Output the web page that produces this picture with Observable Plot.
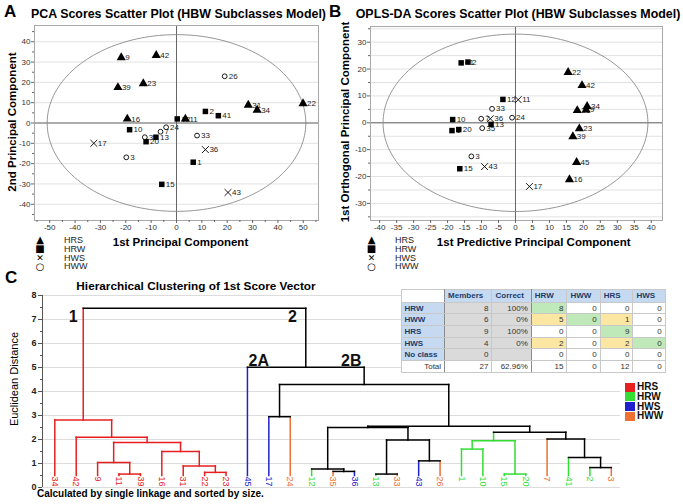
<!DOCTYPE html>
<html><head><meta charset="utf-8">
<script src="https://cdn.jsdelivr.net/npm/d3@7"></script>
<script src="https://cdn.jsdelivr.net/npm/@observablehq/plot@0.6"></script>
<style>
body{margin:0;background:#fff;font-family:"Liberation Sans",Arial,sans-serif;}
#fig{position:relative;width:683px;height:504px;overflow:hidden;background:#fff;}
.abs{position:absolute;white-space:nowrap;line-height:1;}
.c{transform:translate(-50%,-50%);}
.r{transform:translate(-50%,-50%) rotate(-90deg);}
svg{position:absolute;}
table{position:absolute;border-collapse:collapse;table-layout:fixed;font-size:8px;color:#333;background:#fff;border:1px solid #777;}
td{padding:0 3px;height:10.7px;border:1px solid #c8c8c8;text-align:right;overflow:hidden;white-space:nowrap;}
thead td{height:11.7px;font-weight:bold;color:#1f3a68;text-align:left;background:#c5daf0;}
td.rh{font-weight:bold;color:#1f3a68;text-align:left;background:#c5daf0;}
td.gray{background:#dadada;}
td.green{background:#bfe9b9;}
td.yellow{background:#fbe6a2;}
td:nth-child(1), td:nth-child(3){border-right:1px solid #8a8a8a;}
tbody tr:last-child td{border-top:1px solid #8a8a8a;}
</style></head><body><div id="fig"></div>
<script>
// ---------- DATA ----------
const classes = ["HRS","HRW","HWS","HWW"];
// Panel A: PCA scores
const pcaId    = ["9","42","26","39","23","31","34","22","2","41","16","12","11","10","24","7","33","35","13","20","17","36","3","1","15","43"];
const pcaClass = ["HRS","HRS","HWW","HRS","HRS","HRS","HRS","HRS","HRW","HRW","HRS","HRW","HRS","HRW","HWW","HWW","HWW","HWW","HRW","HRW","HWS","HWS","HWW","HRW","HRW","HWS"];
const pcaT1    = [-21.8,-8.0,19.0,-23.1,-13.1,28.3,31.8,49.9,11.4,16.5,-19.4,0.3,3.5,-18.5,-4.1,-6.3,8.1,-12.5,-8.1,-12.0,-32.6,11.4,-19.8,6.6,-5.8,20.3];
const pcaT2    = [32.2,33.3,23.0,17.5,19.4,8.8,6.4,9.6,5.7,3.6,2.0,2.0,2.0,-3.3,-2.1,-4.3,-6.2,-7.0,-7.0,-9.2,-10.0,-13.1,-16.9,-19.3,-30.2,-34.2];
const pcaEllipse = [51, 43.5];
// Panel B: OPLS-DA scores
const oplsId    = ["41","2","22","42","12","11","33","34","31","9","10","7","36","24","1","20","35","13","23","39","3","15","43","45","16","17"];
const oplsClass = ["HRW","HRW","HRS","HRS","HRW","HWS","HWW","HRS","HRS","HRS","HRW","HWW","HWS","HWW","HRW","HRW","HWW","HRW","HRS","HRS","HWW","HRW","HWS","HRS","HRS","HWS"];
const oplsTp    = [-16.0,-14.0,15.5,19.6,-3.7,0.8,-6.9,21.1,18.2,20.8,-18.5,-10.1,-7.4,-1.0,-18.7,-16.7,-9.8,-7.2,18.8,16.9,-13.0,-16.4,-9.1,18.0,15.9,4.1];
const oplsTo    = [22.3,22.6,18.8,13.9,8.7,8.6,5.2,6.1,4.6,4.8,1.2,1.5,1.5,1.9,-2.9,-2.5,-2.0,-0.6,-2.2,-5.1,-12.5,-17.1,-16.3,-14.7,-21.1,-23.7];
const oplsEllipse = [39, 33];
// Panel C: dendrogram
const leafIds   = ["34","42","9","11","39","16","31","22","23","45","17","24","12","35","36","13","33","43","26","1","10","15","20","7","41","2","3"];
const leafClass = ["HRS","HRS","HRS","HRS","HRS","HRS","HRS","HRS","HRS","HWS","HWS","HWW","HRW","HWW","HWS","HRW","HWW","HWS","HWW","HRW","HRW","HRW","HRW","HWW","HRW","HRW","HWW"];
const merges = [
  ["11","39",0.56],["9","n1",1.04],["22","23",0.63],["31","n3",0.90],["16","n4",1.50],
  ["n2","n5",1.88],["42","n6",2.09],["34","n7",2.81],["17","24",2.95],["35","36",0.67],
  ["12","n10",0.77],["13","33",0.56],["43","26",1.11],["n12","n13",1.98],["n11","n14",2.50],
  ["1","10",1.60],["15","20",0.56],["n16","n17",1.95],["2","3",0.83],["41","n19",1.25],
  ["7","n20",2.02],["n18","n21",2.30],["n15","n22",2.55],["n9","n23",4.29],["45","n24",5.01],
  ["n8","n25",7.47]
];
const leafBase = 0.5;
const clusterTags = [["1",0.86,7.1],["2",11.1,7.1],["2A",9.53,5.27],["2B",13.85,5.27]];
// Table
const tblCols = ["Members","Correct","HRW","HWW","HRS","HWS"];
const tblRows = ["HRW","HWW","HRS","HWS","No class"];
const tblMembers = ["8","6","9","4","0"];
const tblCorrect = ["100%","0%","100%","0%",""];
const tblMatrix = [[8,0,0,0],[5,0,1,0],[0,0,9,0],[2,0,2,0],[0,0,0,0]];
const tblTotal = ["Total","27","62.96%","15","0","12","0"];
const palette = {HRS:"#e62020", HRW:"#33dd33", HWS:"#2020cc", HWW:"#ee7033", mixed:"#000"};

// ---------- HELPERS ----------
const fig = document.getElementById("fig");
const FONT = '"Liberation Sans", Arial, sans-serif';
function txt(s, x, y, css, cls="c") {
  const d = document.createElement("div");
  d.className = "abs " + cls; d.textContent = s;
  d.style.left = x + "px"; d.style.top = y + "px";
  Object.assign(d.style, css || {});
  fig.appendChild(d); return d;
}
function place(svg, left, top) { svg.style.left = left + "px"; svg.style.top = top + "px"; fig.appendChild(svg); }

const symbolOf = {HRS:"triangle", HRW:"square", HWS:"times", HWW:"circle"};
function scatter(o) {
  const pts = o.ids.map((id,i)=>({id, cls:o.cls[i], x:o.xs[i], y:o.ys[i]}));
  const ell = d3.range(0, 361, 2).map(a => ({x:o.ellipse[0]*Math.cos(a*Math.PI/180), y:o.ellipse[1]*Math.sin(a*Math.PI/180)}));
  const dots = classes.map(c => {
    const filled = c==="HRS" || c==="HRW";
    return Plot.dot(pts.filter(d=>d.cls===c), {x:"x", y:"y", symbol:symbolOf[c],
      r: c==="HRS"?3.4:c==="HRW"?3.1:c==="HWS"?3.2:2.4,
      fill: filled?"#000":"#fff", stroke: filled?"none":"#000", strokeWidth: 0.9});
  });
  return Plot.plot({
    width:o.width, height:o.height, marginLeft:o.ml, marginRight:o.mr, marginTop:o.mt, marginBottom:o.mb,
    x:{domain:o.xDomain}, y:{domain:o.yDomain},
    style:{fontFamily:FONT, fontSize:"8px", color:"#333", background:"transparent"},
    marks:[
      Plot.gridY(o.yGrid, {stroke:"#e2e2e2", strokeOpacity:1}),
      Plot.ruleX([0], {stroke:"#666"}),
      Plot.ruleY([0], {stroke:"#666"}),
      Plot.line(ell, {x:"x", y:"y", stroke:"#8a8a8a", strokeWidth:0.9}),
      Plot.frame({stroke:"#a8a8a8"}),
      Plot.axisX(o.xTicks, {tickSize:3, tickPadding:1, fontSize:8, label:null, stroke:"#666", tickFormat:d=>String(d)}),
      Plot.axisX(o.xMinor, {tickSize:2, text:null, label:null, stroke:"#666"}),
      Plot.axisY(o.yTicks, {tickSize:3, tickPadding:1, fontSize:8, label:null, stroke:"#666", tickFormat:d=>String(d)}),
      Plot.axisY(o.yMinor, {tickSize:2, text:null, label:null, stroke:"#666"}),
      Plot.text(pts, {x:"x", y:"y", text:"id", dx:4, textAnchor:"start", fontSize:8, fill:"#222"}),
      ...dots
    ]
  });
}

// ---------- PANEL A ----------
place(scatter({ids:pcaId, cls:pcaClass, xs:pcaT1, ys:pcaT2, ellipse:pcaEllipse,
  width:340, height:240, ml:34, mr:22, mt:25, mb:20,
  xDomain:[-56,56], yDomain:[-48,48],
  xTicks:d3.range(-50,51,10), xMinor:d3.range(-55,56,5).filter(v=>v%10!==0),
  yTicks:d3.range(-40,41,10), yMinor:d3.range(-45,46,5).filter(v=>v%10!==0),
  yGrid:d3.range(-40,41,10)}), 0, 0);
txt("A", 4, 3, {fontSize:"17px", fontWeight:"bold"}, "");
txt("PCA Scores Scatter Plot (HBW Subclasses Model)", 178.5, 13.5, {fontSize:"12.4px", fontWeight:"bold"});
txt("1st Principal Component", 180.5, 243, {fontSize:"11.5px", fontWeight:"bold"});
txt("2nd Principal Component", 12.5, 122, {fontSize:"11.5px", fontWeight:"bold"}, "r");

// ---------- PANEL B ----------
place(scatter({ids:oplsId, cls:oplsClass, xs:oplsTp, ys:oplsTo, ellipse:oplsEllipse,
  width:343, height:240, ml:30, mr:21, mt:26, mb:20,
  xDomain:[-42.7,43.3], yDomain:[-36.36,35.84],
  xTicks:d3.range(-40,41,5), xMinor:[],
  yTicks:d3.range(-30,31,10), yMinor:d3.range(-35,36,5).filter(v=>v%10!==0),
  yGrid:d3.range(-35,36,5)}), 340, 0);
txt("B", 329, 3, {fontSize:"17px", fontWeight:"bold"}, "");
txt("OPLS-DA Scores Scatter Plot (HBW Subclasses Model)", 518, 13.5, {fontSize:"12.4px", fontWeight:"bold"});
txt("1st Predictive Principal Component", 533.7, 243, {fontSize:"11.5px", fontWeight:"bold"});
txt("1st Orthogonal Principal Component", 346, 122, {fontSize:"11.5px", fontWeight:"bold"}, "r");

// scatter legends
const legSym = {HRS:"▲", HRW:"■", HWS:"✕", HWW:"○"};
const legY = [240, 249, 258, 266.5];
[["HRS",0],["HRW",1],["HWS",2],["HWW",3]].forEach(([c,k])=>{
  [[40,64],[371.5,395]].forEach(([sx,tx])=>{
    txt(legSym[c], sx, legY[k], {fontSize: c==="HWS"?"9px":"10px", fontFamily:"DejaVu Sans"});
    txt(c, tx, legY[k]-4.5, {fontSize:"9px", color:"#222"}, "");
  });
});

// ---------- PANEL C ----------
const nodes = new Map();
leafIds.forEach((id,i)=>nodes.set(id,{x:i, h:leafBase, cls:leafClass[i]}));
const segs = [];
merges.forEach(([a,b,h],k)=>{
  const A = nodes.get(a), B = nodes.get(b);
  const cls = A.cls===B.cls ? A.cls : "mixed";
  segs.push({x1:A.x, x2:A.x, y1:A.h, y2:h, cls:A.cls});
  segs.push({x1:B.x, x2:B.x, y1:B.h, y2:h, cls:B.cls});
  segs.push({x1:A.x, x2:B.x, y1:h, y2:h, cls});
  nodes.set("n"+(k+1), {x:(A.x+B.x)/2, h, cls});
});
const leaves = leafIds.map((id,i)=>({id, i, cls:leafClass[i]}));
const xDomC = [-0.575, 26.43];
const dendro = Plot.plot({
  width:683, height:214, marginLeft:42, marginRight:63, marginTop:5, marginBottom:17,
  x:{domain:xDomC, axis:null},
  y:{domain:[0,8]},
  color:{domain:[...classes,"mixed"], range:[palette.HRS,palette.HRW,palette.HWS,palette.HWW,palette.mixed]},
  style:{fontFamily:FONT, fontSize:"9px", color:"#222", background:"transparent"},
  marks:[
    Plot.gridY(d3.range(0,9), {stroke:"#dcdcdc", strokeOpacity:1}),
    Plot.axisY(d3.range(0,9), {tickSize:4, tickPadding:2, fontSize:9, fontWeight:"bold", label:null, stroke:"#555"}),
    Plot.axisY(d3.range(0.5,8,1), {tickSize:2, text:null, label:null, stroke:"#555"}),
    Plot.ruleX([xDomC[0]], {y1:0, y2:8, stroke:"#555"}),
    Plot.link(segs, {x1:"x1", y1:"y1", x2:"x2", y2:"y2", stroke:"cls", strokeWidth:1.5, strokeLinecap:"square"}),
    Plot.text(leaves, {x:"i", y:()=>leafBase-0.04, text:"id", rotate:90, textAnchor:"start", lineAnchor:"middle", fill:"cls", fontSize:9}),
    Plot.text(clusterTags, {x:d=>d[1], y:d=>d[2], text:d=>d[0], fontSize:16, fontWeight:"bold", fill:"#111"})
  ]
});
place(dendro, 0, 290);
txt("C", 5, 269, {fontSize:"17px", fontWeight:"bold"}, "");
txt("Hierarchical Clustering of 1st Score Vector", 196, 286.5, {fontSize:"11.8px", fontWeight:"bold"});
txt("Euclidean Distance", 14, 379, {fontSize:"11px"}, "r");
txt("Calculated by single linkage and sorted by size.", 37, 489, {fontSize:"10px", fontWeight:"bold"}, "");

// legend C
classes.forEach((c,k)=>{
  const y = [387, 396.7, 406.5, 416][k];
  const sw = document.createElement("div");
  sw.className = "abs"; Object.assign(sw.style, {left:"625px", top:(y-4.5)+"px", width:"10px", height:"9px", background:palette[c]});
  fig.appendChild(sw);
  txt(c, 637, y-5, {fontSize:"10px", fontWeight:"bold", color:"#111"}, "");
});

// ---------- TABLE ----------
const colW = [43.6, 47.4, 39.3, 35.7, 33.3, 32.7, 32.3];
const tb = document.createElement("table");
tb.style.left = "400.5px"; tb.style.top = "289px"; tb.style.width = d3.sum(colW)+"px";
let html = "<colgroup>" + colW.map(w=>`<col style="width:${w}px">`).join("") + "</colgroup>";
html += "<thead><tr><td style='background:#fff'></td>" + tblCols.map(c=>`<td>${c}</td>`).join("") + "</tr></thead><tbody>";
tblRows.forEach((r,i)=>{
  html += `<tr><td class="rh">${r}</td><td class="gray">${tblMembers[i]}</td><td class="gray">${tblCorrect[i]}</td>`;
  tblMatrix[i].forEach((v,j)=>{
    const colCls = tblCols[j+2];
    let cl = "";
    if (colCls===r) cl = "green"; else if (v>0) cl = "yellow";
    html += `<td class="${cl}">${v}</td>`;
  });
  html += "</tr>";
});
html += "<tr>" + tblTotal.map(v=>`<td>${v}</td>`).join("") + "</tr></tbody>";
tb.innerHTML = html;
fig.appendChild(tb);
</script></body></html>
